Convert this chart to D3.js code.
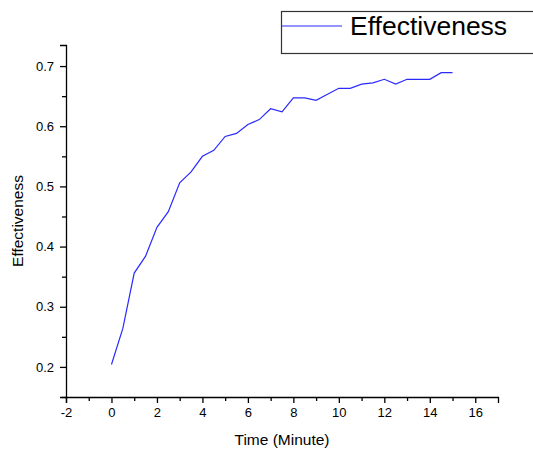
<!DOCTYPE html>
<html>
<head>
<meta charset="utf-8">
<script src="https://cdn.jsdelivr.net/npm/d3@7"></script>
<style>
body { margin: 0; background: #fff; }
text { font-family: Arial, "Liberation Sans", sans-serif; fill: #000; }
</style>
</head>
<body>
<script>
(function(){

//data
var timeValues = [0, 0.5, 1, 1.5, 2, 2.5, 3, 3.5, 4, 4.5, 5, 5.5, 6, 6.5, 7, 7.5,
                  8, 8.5, 9, 9.5, 10, 10.5, 11, 11.5, 12, 12.5, 13, 13.5, 14, 14.5, 15];
var effValues = [0.204, 0.264, 0.356, 0.384, 0.432, 0.458, 0.506, 0.524, 0.550, 0.560,
                 0.583, 0.588, 0.603, 0.611, 0.629, 0.624, 0.647, 0.647, 0.643, 0.653,
                 0.663, 0.663, 0.670, 0.672, 0.678, 0.670, 0.678, 0.678, 0.678, 0.689, 0.689];
var xTicks = [-2, 0, 2, 4, 6, 8, 10, 12, 14, 16];
var yTicks = [0.2, 0.3, 0.4, 0.5, 0.6, 0.7];
var seriesName = "Effectiveness";

var width = 533, height = 450;

var svg = d3.select("body")
    .append("svg")
    .attr("width", width)
    .attr("height", height);

//scales
var x = d3.scaleLinear().domain([-2, 17]).range([66, 498]);
var y = d3.scaleLinear().domain([0.15, 0.735]).range([397, 45]);

var xMinor = d3.range(-1, 17, 2);
var yMinor = [0.15, 0.25, 0.35, 0.45, 0.55, 0.65];

//x axis (plain hyphen for negatives, like the original)
svg.append("g")
    .attr("transform", "translate(0," + y(0.15) + ")")
    .call(d3.axisBottom(x).tickValues(xTicks).tickSize(6).tickPadding(5)
        .tickFormat(function(d){ return String(d); }));
svg.append("g")
    .attr("transform", "translate(0," + y(0.15) + ")")
    .call(d3.axisBottom(x).tickValues(xMinor).tickSize(4).tickFormat(""))
    .select(".domain").remove();

//y axis
svg.append("g")
    .attr("transform", "translate(" + x(-2) + ",0)")
    .call(d3.axisLeft(y).tickValues(yTicks).tickSize(6).tickPadding(6).tickFormat(d3.format(".1f")));
svg.append("g")
    .attr("transform", "translate(" + x(-2) + ",0)")
    .call(d3.axisLeft(y).tickValues(yMinor).tickSize(4).tickFormat(""))
    .select(".domain").remove();

svg.selectAll(".domain").attr("stroke", "#000").attr("stroke-width", 1.3);
svg.selectAll(".tick line").attr("stroke", "#000").attr("stroke-width", 1.3);
svg.selectAll(".tick text")
    .style("font-family", "Arial, 'Liberation Sans', sans-serif")
    .style("font-size", "13px")
    .attr("fill", "#000");

//axis titles
svg.append("text")
    .attr("x", (x(-2) + x(17)) / 2)
    .attr("y", 445)
    .attr("text-anchor", "middle")
    .style("font-size", "15.5px")
    .text("Time (Minute)");

svg.append("text")
    .attr("transform", "translate(23," + (y(0.15) + y(0.735)) / 2 + ") rotate(-90)")
    .attr("text-anchor", "middle")
    .style("font-size", "15.5px")
    .text(seriesName);

//line
var line = d3.line()
    .x(function(d, i){ return x(timeValues[i]); })
    .y(function(d){ return y(d); });

svg.append("path")
    .datum(effValues)
    .attr("fill", "none")
    .attr("stroke", "#2a2aff")
    .attr("stroke-width", 1.2)
    .attr("d", line);

//legend
var legend = svg.append("g");
legend.append("rect")
    .attr("x", 281.5)
    .attr("y", 11.5)
    .attr("width", 300)
    .attr("height", 42)
    .attr("fill", "#fff")
    .attr("stroke", "#333")
    .attr("stroke-width", 1.2);
legend.append("line")
    .attr("x1", 281.5).attr("x2", 342)
    .attr("y1", 26).attr("y2", 26)
    .attr("stroke", "#2a2aff")
    .attr("stroke-width", 1.2);
legend.append("text")
    .attr("x", 350)
    .attr("y", 35)
    .style("font-size", "26.5px")
    .text(seriesName);

})();
</script>
</body>
</html>
